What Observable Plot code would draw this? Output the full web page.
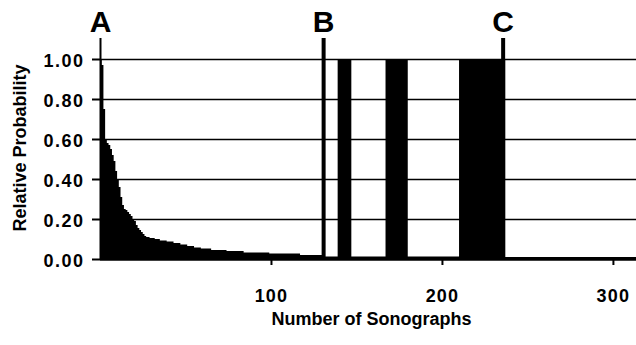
<!DOCTYPE html>
<html><head><meta charset="utf-8">
<script src="https://cdn.jsdelivr.net/npm/d3@7"></script>
<script src="https://cdn.jsdelivr.net/npm/@observablehq/plot@0.6"></script>
<style>
html,body{margin:0;padding:0;background:#fff;}
#chart g[aria-label="y-axis tick label"] text{letter-spacing:1.5px;}
#chart g[aria-label="x-axis tick label"] text{letter-spacing:1.2px;}
#chart g[aria-label="axis-title"] text{letter-spacing:1px;}
</style>
</head><body><div id="chart"></div>
<script>
// Step series: sonograph index where a value starts, and that value
const stepStart = [1,2,3,4,5,6,7,8,9,10,11,12,13,14,15,16,17,18,19,20,21,22,23,24,25,26,27,28,30,33,36,40,44,48,52,56,60,66,75,85,100,118,131,140,148,168,181,211,238];
const stepValue = [1.00,0.97,0.75,0.60,0.58,0.57,0.55,0.52,0.49,0.44,0.40,0.36,0.31,0.27,0.25,0.245,0.235,0.225,0.215,0.20,0.19,0.17,0.155,0.145,0.135,0.125,0.115,0.11,0.105,0.10,0.093,0.087,0.08,0.072,0.065,0.058,0.052,0.045,0.04,0.033,0.027,0.02,0.012,1.00,0.012,1.00,0.012,1.00,0.01];
const lastIndex = 314;
const markerLabel = ["A","B","C"];
const markerIndex = [1,131,236];
const yTicks = [0,0.2,0.4,0.6,0.8,1.0];
const xTicks = [100,200,300];
const xTitle = "Number of Sonographs";
const yTitle = "Relative Probability";

const pts = stepStart.map((s,k)=>({x:s-1, y:stepValue[k]}));
pts.push({x:lastIndex, y:stepValue[stepValue.length-1]});
const markers = markerLabel.map((l,k)=>({label:l, x:markerIndex[k]-0.5}));
const markerTop = 1.105;

const chart = Plot.plot({
  width: 636, height: 345,
  marginLeft: 100, marginRight: 0, marginTop: 59, marginBottom: 86,
  x: {domain: [0, 313.5]},
  y: {domain: [0, 1]},
  style: {fontFamily: "'Liberation Sans', Arial, Helvetica, sans-serif", fontSize: "18px", fontWeight: "bold", color: "#000", background: "#fff"},
  marks: [
    Plot.ruleY(yTicks.filter(d=>d>0), {stroke:"#000", strokeWidth:1.5}),
    Plot.areaY(pts, {x:"x", y:"y", curve:"step-after", fill:"#000"}),
    Plot.ruleY([0], {stroke:"#000", strokeWidth:2.5}),
    Plot.axisY({ticks: yTicks, tickSize: 8, strokeWidth: 2, tickFormat: () => "", label: null}),
    Plot.axisY({ticks: yTicks, tickSize: 0, tickPadding: 16, dy: 2, tickFormat: d3.format(".2f"), label: null, fontSize: 18}),
    Plot.axisX({ticks: xTicks, tickSize: 6, strokeWidth: 2, tickPadding: 24, label: null, fontSize: 18}),
    Plot.ruleX(markers.filter(d=>d.label==="A"), {x: d=>0, y1: 0, y2: markerTop, stroke:"#000", strokeWidth: 2}),
    Plot.ruleX(markers.filter(d=>d.label!=="A"), {x: "x", y1: 0, y2: markerTop, stroke:"#000", strokeWidth: 4}),
    Plot.text(markers, {x: d=>d.label==="A"?0:d.x, y: markerTop, text:"label", dy: -7, lineAnchor:"bottom", fontSize: 30, fontWeight:"bold", fill:"#000"}),
    Plot.text([xTitle], {text: d=>d, frameAnchor:"bottom", lineAnchor:"middle", dy: 60, dx: 3, fontSize: 18, fontWeight:"bold", fill:"#000", ariaLabel:"axis-title"}),
    Plot.text([yTitle], {text: d=>d, frameAnchor:"left", textAnchor:"middle", lineAnchor:"middle", rotate: -90, dx: -80, dy: -11.5, fontSize: 18, fontWeight:"bold", fill:"#000", ariaLabel:"axis-title"})
  ]
});
document.getElementById("chart").appendChild(chart);
</script>
</body></html>
